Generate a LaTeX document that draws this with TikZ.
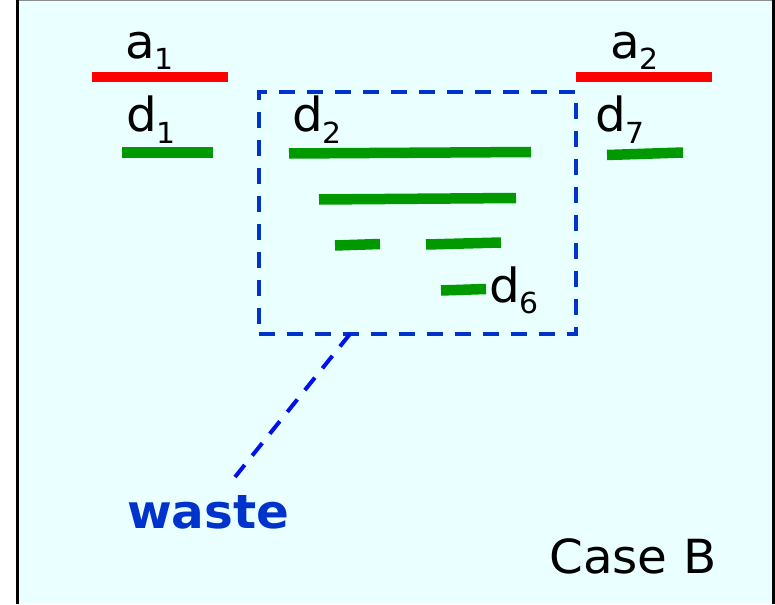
\documentclass[tikz,border=0pt]{standalone}
\usepackage{fontspec}
\usetikzlibrary{calc}
\setmainfont[FakeStretch=1.03]{DejaVu Sans}
\definecolor{bgc}{HTML}{EAFFFF}
\definecolor{boxblue}{HTML}{0033CC}
\definecolor{lineblue}{HTML}{0011EE}
\definecolor{barred}{HTML}{FF0000}
\definecolor{bargreen}{HTML}{009900}
\newcommand{\mysub}[1]{\raisebox{-11pt}{\fontsize{29}{29}\selectfont #1}}
\tikzset{
  lbl/.style={anchor=base west, inner sep=0pt, font=\fontsize{47}{56}\selectfont},
  redbar/.style={draw=barred, line width=10pt},
  greenbar/.style={draw=bargreen, line width=10.5pt},
  wastebox/.style={draw=boxblue, line width=3.5pt, dash pattern=on 16pt off 12pt},
  wasteline/.style={draw=lineblue, line width=4pt, dash pattern=on 16pt off 12pt}
}
\begin{document}
\begin{tikzpicture}[x=1pt,y=-1pt]
\useasboundingbox (0,0) rectangle (775,604);
\fill[white] (0,0) rectangle (775,604);
\fill[bgc] (17,0) rectangle (775,604);
\draw[black!45, line width=1.5pt] (17,0.75) -- (775,0.75);
\draw[black, line width=3pt] (17.5,0) -- (17.5,604);
\draw[black, line width=3pt] (773.5,0) -- (773.5,604);
% labels
\node[lbl] (a1) at (125,59) {a\mysub{1}};
\node[lbl] (a2) at (610,59) {a\mysub{2}};
\node[lbl] (d1) at (126,132) {d\mysub{1}};
\node[lbl] (d2) at (292,132) {d\mysub{2}};
\node[lbl] (d7) at (595,132) {d\mysub{7}};
\node[lbl] (d6) at (489,302) {d\mysub{6}};
\node[lbl, font=\fontsize{47}{56}\selectfont\bfseries, text=boxblue] (waste) at (127,528) {waste};
\node[lbl] (caseb) at (549,573) {Case B};
% red bars
\draw[redbar] (92,77) -- (228,77);
\draw[redbar] (576,77) -- (712,77);
% green bars
\draw[greenbar] (122,152.5) -- (213,152.5);
\draw[greenbar] (289,153.5) -- (531,152);
\draw[greenbar] (319,199.5) -- (516,198);
\draw[greenbar] (335,245.5) -- (380,244);
\draw[greenbar] (426,244.5) -- (501,242.5);
\draw[greenbar] (441,290.5) -- (486,289);
\draw[greenbar] (607,155) -- (683,152.5);
% waste box and connector
\node[wastebox, inner sep=0pt, outer sep=0pt, minimum width=317pt, minimum height=242pt, anchor=north west] (box) at (259,92) {};
\coordinate (boxpt) at ($(box.south west)!0.287!(box.south east)$);
\coordinate (wend) at (235,477);
\draw[wasteline] (boxpt) -- (wend);
\end{tikzpicture}
\end{document}
